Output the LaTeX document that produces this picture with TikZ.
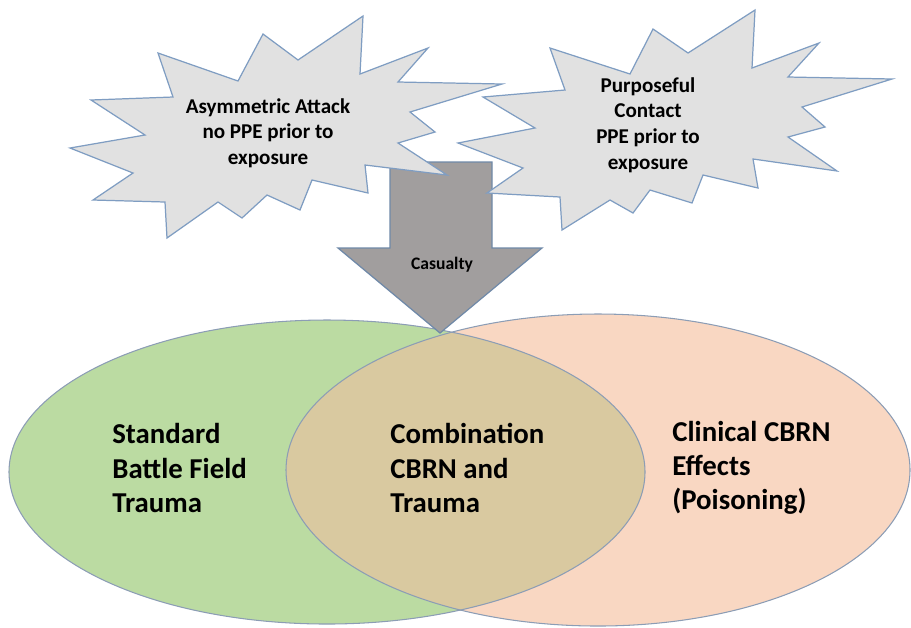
\documentclass[tikz,border=0pt]{standalone}
\usepackage{fontspec}
\setmainfont{Carlito}
\usetikzlibrary{positioning}
\definecolor{starfill}{HTML}{E1E1E1}
\definecolor{starline}{HTML}{7F9DC2}
\definecolor{arrowfill}{HTML}{A19E9E}
\definecolor{arrowline}{HTML}{6F89A8}
\definecolor{greenset}{HTML}{BBDBA2}
\definecolor{peachset}{HTML}{F9D7C2}
\definecolor{bothset}{HTML}{D9C9A0}
\definecolor{vennline}{HTML}{8C9DB5}
\tikzset{
  burst/.style={fill=starfill, draw=starline, line width=0.7pt, line join=miter},
  bursttext/.style={font=\bfseries\fontsize{12}{14.6}\selectfont, align=center, inner sep=0pt},
  venntext/.style={font=\bfseries\fontsize{16.4}{19.5}\selectfont, align=left, inner sep=0pt, anchor=west},
}
\begin{document}
\begin{tikzpicture}[x=0.02cm, y=-0.02cm]
    \useasboundingbox (0,0) rectangle (911,627);
    \def\leftset{(327,472) ellipse [x radius=318, y radius=152]}
    \def\rightset{(598,470) ellipse [x radius=312, y radius=156]}
    \fill[greenset] \leftset;
    \fill[peachset] \rightset;
    \begin{scope}
        \clip \leftset;
        \fill[bothset] \rightset;
    \end{scope}
    \draw[vennline, line width=0.6pt] \leftset;
    \draw[vennline, line width=0.6pt] \rightset;
    \draw[fill=arrowfill, draw=arrowline, line width=0.7pt] (390,162) -- (492,162) -- (492,248) -- (542,248)
        -- (440,333) -- (338,248) -- (390,248) -- cycle;
    \draw[burst] (158,53) -- (238,81) -- (263,34) -- (298,60) -- (363,16) -- (360,74) -- (428,48) -- (398,82)
        -- (502,84) -- (410,112) -- (435,132) -- (398,143) -- (447,175) -- (365,165) -- (368,193) -- (312,180)
        -- (300,210) -- (267,195) -- (242,218) -- (218,202) -- (167,238) -- (165,202) -- (93,200) -- (133,173)
        -- (70,148) -- (145,135) -- (91,100) -- (173,97) -- cycle;
    \draw[burst] (550,48) -- (630,74) -- (653,29) -- (688,53) -- (755,10) -- (752,68) -- (819,43) -- (788,77)
        -- (892,79) -- (802,107) -- (825,127) -- (788,137) -- (837,171) -- (753,159) -- (758,188) -- (703,175)
        -- (692,203) -- (650,190) -- (633,213) -- (610,200) -- (562,230) -- (560,197) -- (487,193) -- (523,168)
        -- (458,143) -- (535,128) -- (483,97) -- (565,90) -- cycle;
    \node[bursttext] (asym) at (268,133) {Asymmetric Attack\\no PPE prior to\\exposure};
    \node[bursttext] (purp) at (648,125) {Purposeful\\Contact\\PPE prior to\\exposure};
    \node[font=\bfseries\fontsize{10}{12}\selectfont] (cas) at (442,265) {Casualty};
    \node[venntext] (trauma) at (112,468) {Standard\\Battle Field\\Trauma};
    \node[venntext] (combo) at (390,468) {Combination\\CBRN and\\Trauma};
    \node[venntext] (cbrn) at (672,468) {Clinical CBRN\\Effects\\(Poisoning)};
\end{tikzpicture}
\end{document}
